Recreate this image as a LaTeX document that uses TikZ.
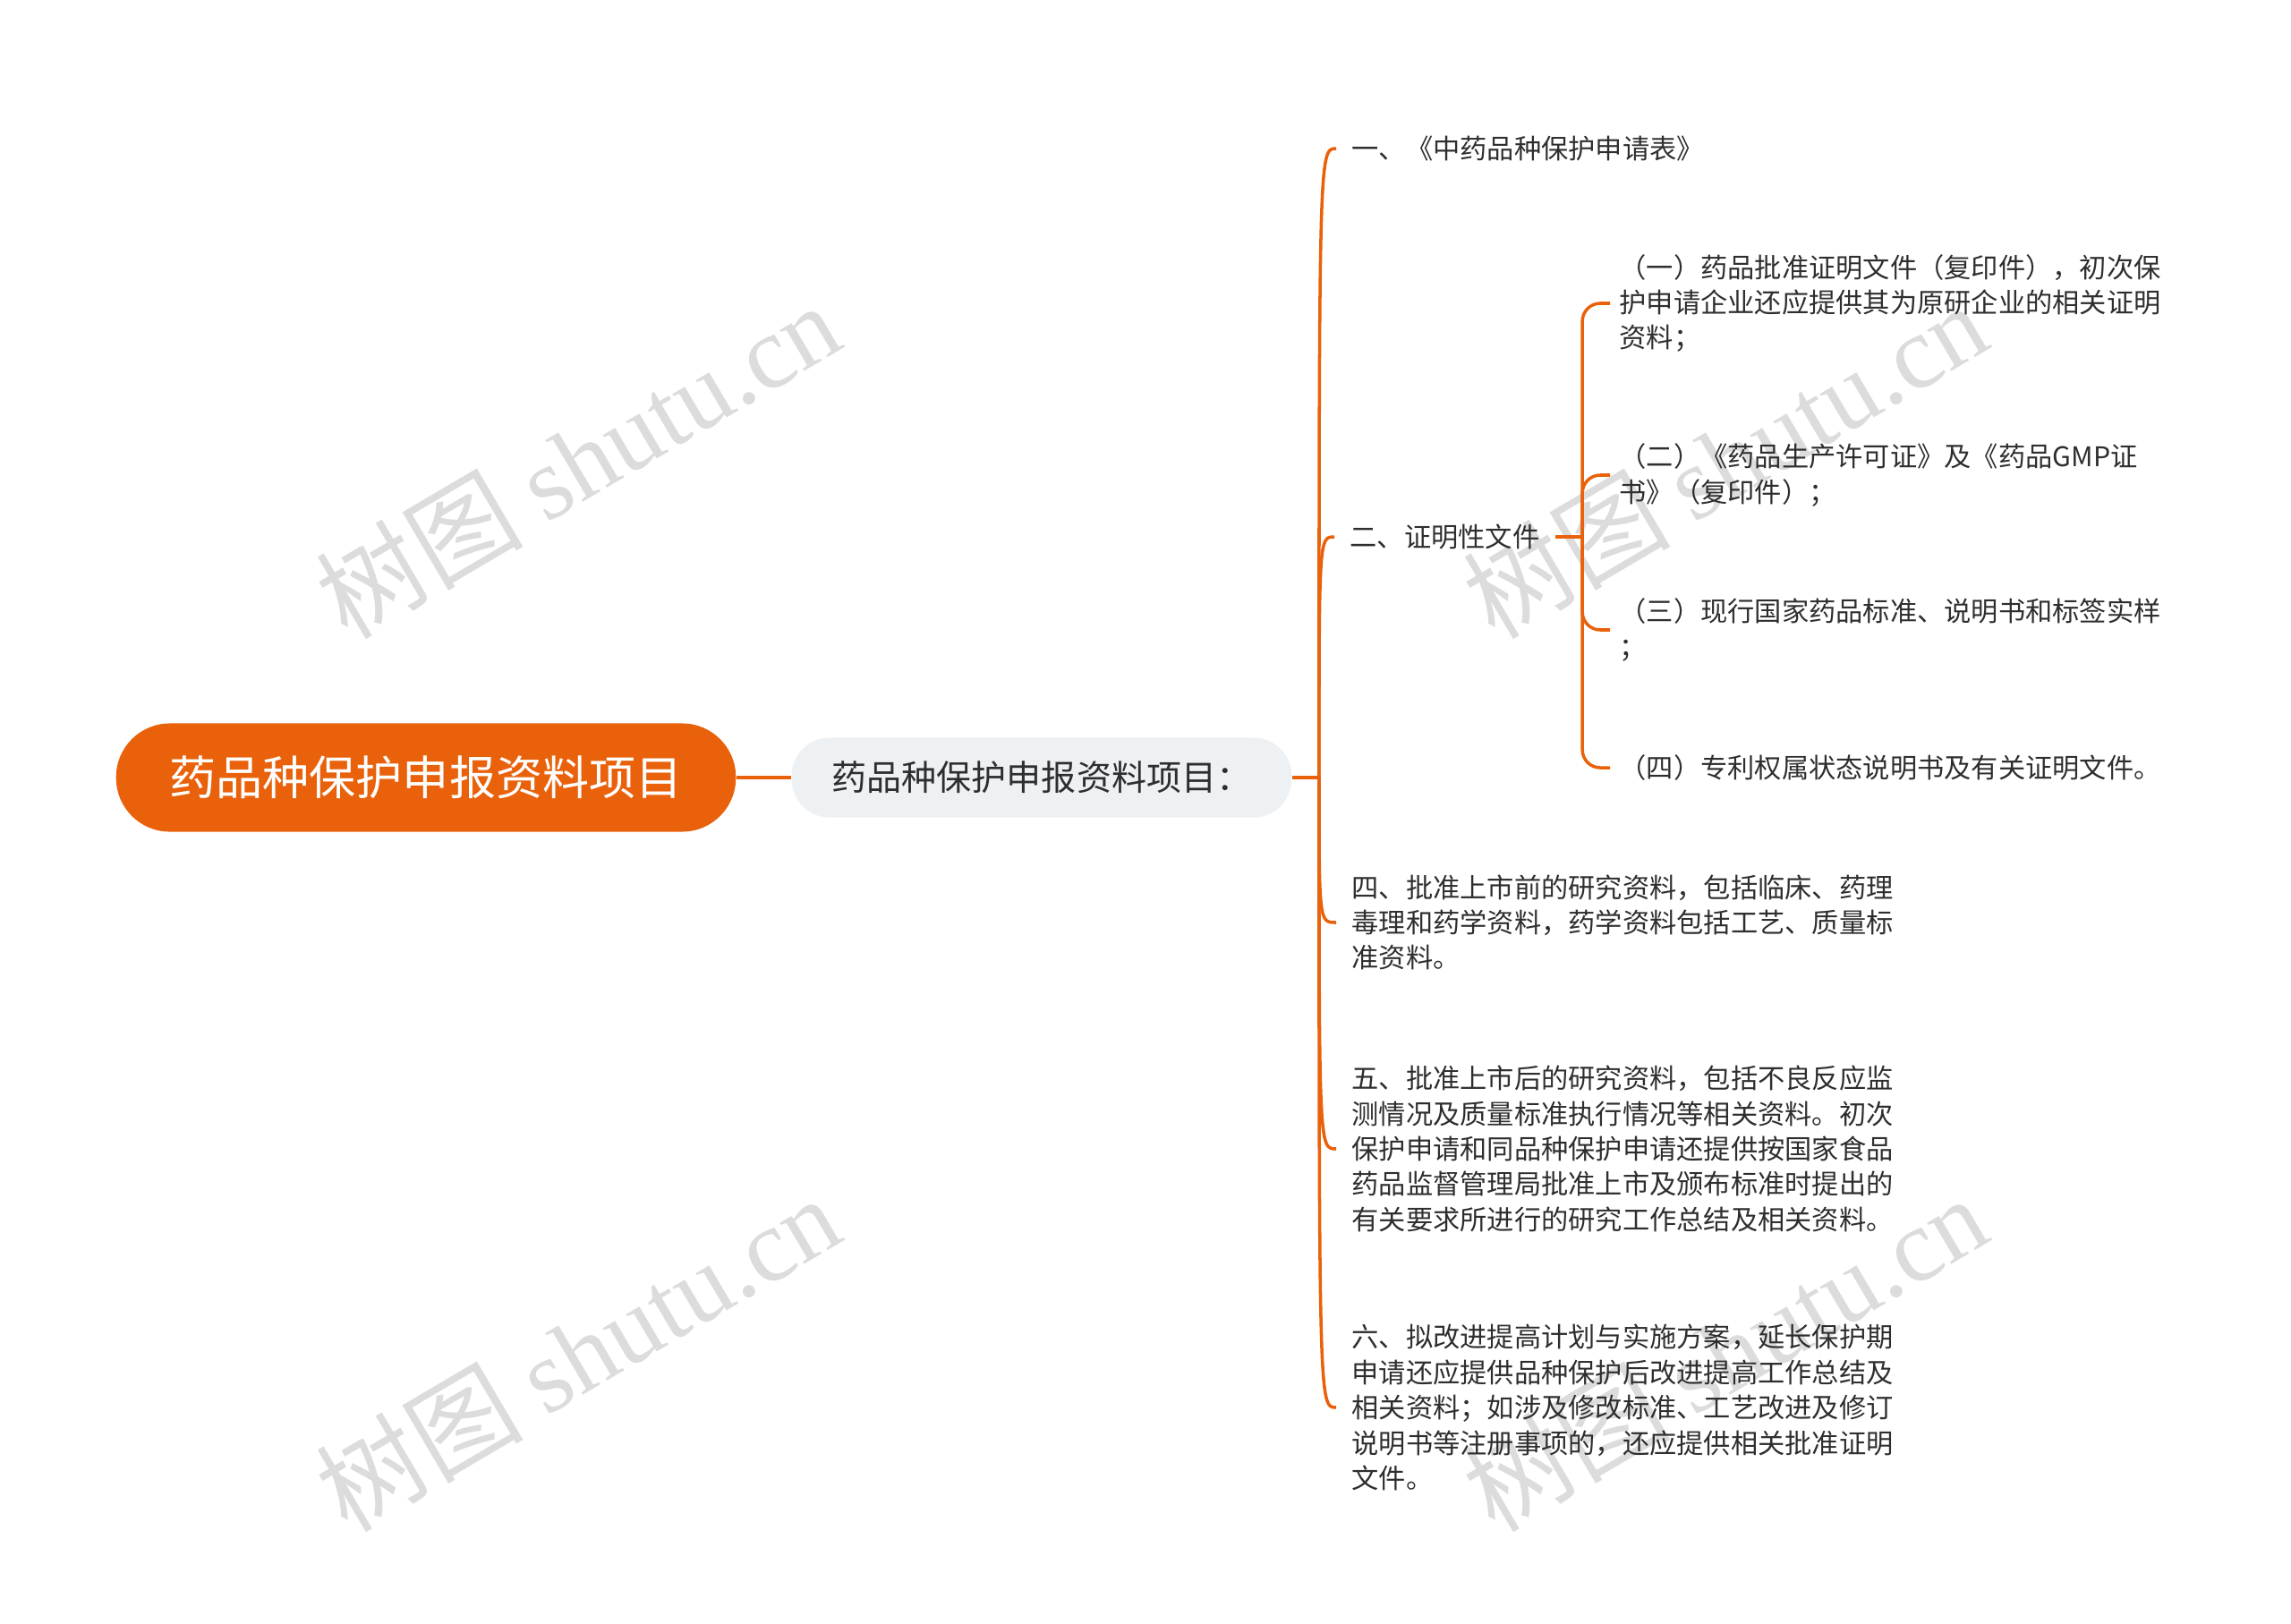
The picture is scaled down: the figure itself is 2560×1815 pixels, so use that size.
\documentclass[tikz,border=0pt]{standalone}
\usepackage{fontspec}
\setmainfont{Noto Sans CJK SC}
\newfontfamily\wmlatin{Liberation Serif}
\usetikzlibrary{positioning}

\definecolor{mindorange}{HTML}{E9620B}
\definecolor{subgray}{HTML}{EEF1F4}
\definecolor{inktext}{HTML}{2E2E2E}
\definecolor{wmgray}{HTML}{DCDCDC}

\tikzset{
  rootbox/.style={fill=mindorange, text=white, rounded corners=0.6cm, minimum height=1.21cm, inner xsep=0.6cm, font=\fontsize{14.8}{17}\selectfont},
  subbox/.style={fill=subgray, text=inktext, rounded corners=0.42cm, minimum height=0.89cm, inner xsep=0.45cm, font=\fontsize{11.1}{13}\selectfont},
  item/.style={text=inktext, align=left, anchor=west, inner xsep=0.17cm, inner ysep=0pt, font=\fontsize{8.6}{11.2}\selectfont},
  subitem/.style={item, inner xsep=0.1cm},
  branch/.style={draw=mindorange, line width=1pt},
  wmark/.style={text=wmgray, rotate=30.5, font=\fontsize{33}{38}\selectfont}
}

\begin{document}
\begin{tikzpicture}[x=0.01cm, y=-0.01cm]

  \useasboundingbox (0,0) rectangle (2560,1815);

  \node[wmark] (wm1) at (645,514) {树图 {\wmlatin shutu.cn}};
  \node[wmark] (wm2) at (1927,514) {树图 {\wmlatin shutu.cn}};
  \node[wmark] (wm3) at (645,1512) {树图 {\wmlatin shutu.cn}};
  \node[wmark] (wm4) at (1927,1512) {树图 {\wmlatin shutu.cn}};

  \node[rootbox] (root) at (476,869) {药品种保护申报资料项目};
  \node[subbox, right=0.61cm of root] (sub) {药品种保护申报资料项目：};
  \coordinate[right=0.3cm of sub] (hub);

  \node[item] (c1) at (1493,166) {一、《中药品种保护申请表》};
  \node[item] (c2) at (1491,600) {二、证明性文件};
  \node[item] (c4) at (1493,1031) {四、批准上市前的研究资料，包括临床、药理\\毒理和药学资料，药学资料包括工艺、质量标\\准资料。};
  \node[item] (c5) at (1493,1284) {五、批准上市后的研究资料，包括不良反应监\\测情况及质量标准执行情况等相关资料。初次\\保护申请和同品种保护申请还提供按国家食品\\药品监督管理局批准上市及颁布标准时提出的\\有关要求所进行的研究工作总结及相关资料。};
  \node[item] (c6) at (1493,1573) {六、拟改进提高计划与实施方案，延长保护期\\申请还应提供品种保护后改进提高工作总结及\\相关资料；如涉及修改标准、工艺改进及修订\\说明书等注册事项的，还应提供相关批准证明\\文件。};

  \coordinate[right=0.3cm of c2] (hub2);
  \node[subitem] (d1) at (1799,339) {（一）药品批准证明文件（复印件），初次保\\护申请企业还应提供其为原研企业的相关证明\\资料；};
  \node[subitem] (d2) at (1799,531) {（二）《药品生产许可证》及《药品GMP证\\书》（复印件）；};
  \node[subitem] (d3) at (1799,704) {（三）现行国家药品标准、说明书和标签实样\\；};
  \node[subitem] (d4) at (1799,858) {（四）专利权属状态说明书及有关证明文件。};

  \draw[branch] (root) -- (sub);
  \draw[branch] (sub) -- (hub);
  \draw[branch] (hub) .. controls (hub|-c1.west) and (hub|-c1.west) .. (c1.west);
  \draw[branch] (hub) .. controls (hub|-c2.west) and (hub|-c2.west) .. (c2.west);
  \draw[branch] (hub) .. controls (hub|-c4.west) and (hub|-c4.west) .. (c4.west);
  \draw[branch] (hub) .. controls (hub|-c5.west) and (hub|-c5.west) .. (c5.west);
  \draw[branch] (hub) .. controls (hub|-c6.west) and (hub|-c6.west) .. (c6.west);

  \draw[branch] (c2) -- (hub2);
  \draw[branch, rounded corners=0.2cm] (hub2) |- (d1.west);
  \draw[branch, rounded corners=0.2cm] (hub2) |- (d2.west);
  \draw[branch, rounded corners=0.2cm] (hub2) |- (d3.west);
  \draw[branch, rounded corners=0.2cm] (hub2) |- (d4.west);

\end{tikzpicture}
\end{document}
